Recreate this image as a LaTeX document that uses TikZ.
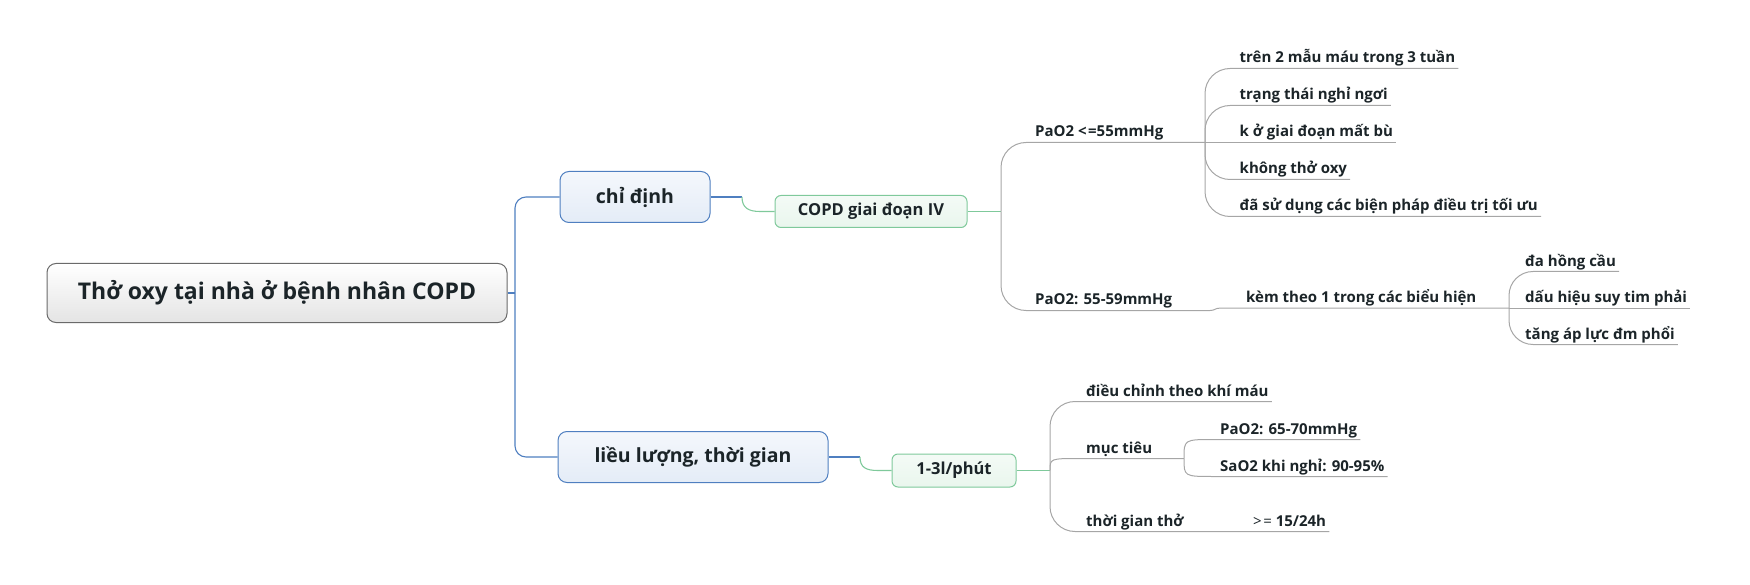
\documentclass[tikz,border=0pt]{standalone}
\usepackage{fontspec}
\setmainfont{Open Sans}
\usetikzlibrary{calc}
\definecolor{txt}{HTML}{1B2428}
\definecolor{blu}{HTML}{4F7FC0}
\definecolor{grn}{HTML}{7FC99B}
\definecolor{gry}{HTML}{A6A6A6}
\definecolor{rootb}{HTML}{6A6A6A}
\definecolor{rootf}{HTML}{E4E4E4}
\definecolor{bluf}{HTML}{E4ECF7}
\definecolor{grnf}{HTML}{E9F6ED}
\tikzset{
  rootbox/.style={draw=rootb, line width=1pt, rounded corners=9pt, top color=white, bottom color=rootf,
    minimum width=460pt, minimum height=59pt, inner sep=0pt, font=\fontsize{23}{27}\selectfont\bfseries, text=txt},
  mainbox/.style={draw=blu, line width=1pt, rounded corners=9pt, top color=white!60!bluf, bottom color=bluf,
    minimum height=51pt, inner sep=0pt, font=\fontsize{19.5}{24}\selectfont\bfseries, text=txt},
  subbox/.style={draw=grn, line width=1pt, rounded corners=6pt, top color=white!50!grnf, bottom color=grnf,
    minimum height=32pt, inner sep=0pt, font=\fontsize{16.5}{20}\selectfont\bfseries, text=txt},
  lbl/.style={anchor=base west, inner sep=0pt, font=\fontsize{15}{18}\selectfont\bfseries, text=txt},
  bl/.style={draw=blu, line width=1.1pt},
  gl/.style={draw=grn, line width=1.1pt},
  yl/.style={draw=gry, line width=1pt},
}
\begin{document}
\begin{tikzpicture}[x=1pt,y=-1pt]
\useasboundingbox (0,0) rectangle (1750,585);
\begin{scope}[shift={(0,1.5)}]
% boxes
\node[rootbox] (root) at (277,291.5) {Thở oxy tại nhà ở bệnh nhân COPD};
\node[mainbox, minimum width=150pt] (cd) at (635,195.5) {chỉ định};
\node[mainbox, minimum width=270pt] (ll) at (693,455.5) {liều lượng, thời gian};
\node[subbox, minimum width=192pt] (copd) at (871,210) {COPD giai đoạn IV};
\node[subbox, minimum width=124pt, minimum height=33pt] (lp) at (954,469) {1-3l/phút};
% trunk
\coordinate (tr) at (515,291.5);
\draw[bl] (root.east) -- (tr);
\draw[bl, rounded corners=11pt] (cd.west) -| (tr) |- (ll.west);
% main -> sub
\coordinate (cdj) at (742,195.5);
\coordinate (llj) at (860,455.5);
\draw[bl] (cd.east) -- (cdj);
\draw[gl] (cdj) .. controls (742,206) and (748,210) .. (760,210) -- (copd.west);
\draw[bl] (ll.east) -- (llj);
\draw[gl] (llj) .. controls (860,466) and (866,469) .. (878,469) -- (lp.west);
% upper branch
\coordinate (j1) at (1001,210);
\draw[gl] (copd.east) -- (j1);
\node[lbl] (p1) at (1035,135.5) {PaO2 <\kern1.5pt=55mmHg};
\node[lbl] (p2) at (1035,303.5) {PaO2: 55-59mmHg};
\coordinate (j2) at (1205,141);
\coordinate (j3) at (1509,306.6);
\draw[yl, rounded corners=25pt] (j1) |- (j2);
\draw[yl, rounded corners=25pt] (j1) |- (1210,309);
\draw[yl] (1210,309) .. controls (1215,309) and (1215,306.6) .. (1220,306.6) -- (j3);
\node[lbl] (t1) at (1239.5,61.5) {trên 2 mẫu máu trong 3 tuần};
\node[lbl] (t2) at (1239.5,98.5) {trạng thái nghỉ ngơi};
\node[lbl] (t3) at (1239.5,135.5) {k ở giai đoạn mất bù};
\node[lbl] (t4) at (1239.5,172.5) {không thở oxy};
\node[lbl] (t5) at (1239.5,209.5) {đã sử dụng các biện pháp điều trị tối ưu};
\draw[yl, rounded corners=25pt] (j2) |- ($(t1.base east)+(3,5.5)$);
\draw[yl, rounded corners=25pt] (j2) |- ($(t2.base east)+(3,5.5)$);
\draw[yl] (j2) -- ($(t3.base east)+(3,5.5)$);
\draw[yl, rounded corners=25pt] (j2) |- ($(t4.base east)+(3,5.5)$);
\draw[yl, rounded corners=25pt] (j2) |- ($(t5.base east)+(3,5.5)$);
\node[lbl] (k) at (1246,301.1) {kèm theo 1 trong các biểu hiện};
\node[lbl] (d1) at (1525,264.5) {đa hồng cầu};
\node[lbl] (d2) at (1525,301.1) {dấu hiệu suy tim phải};
\node[lbl] (d3) at (1525,337.5) {tăng áp lực đm phổi};
\draw[yl, rounded corners=24pt] (j3) |- ($(d1.base east)+(3,5.5)$);
\draw[yl] (j3) -- ($(d2.base east)+(3,5.5)$);
\draw[yl, rounded corners=24pt] (j3) |- ($(d3.base east)+(3,5.5)$);
% lower branch
\coordinate (j4) at (1050,469);
\coordinate (j5) at (1184,457);
\draw[gl] (lp.east) -- (j4);
\node[lbl] (e1) at (1086,394.5) {điều chỉnh theo khí máu};
\node[lbl] (e2) at (1086,451.5) {mục tiêu};
\node[lbl] (e3) at (1086,524.5) {thời gian thở};
\node[lbl] (g) at (1253,524.5) {{\mdseries >\kern1.5pt=} 15/24h};
\node[lbl] (f1) at (1220,432.5) {PaO2: 65-70mmHg};
\node[lbl] (f2) at (1220,469.5) {SaO2 khi nghỉ: 90-95\%};
\draw[yl, rounded corners=25pt] (j4) |- ($(e1.base east)+(3,5.5)$);
\draw[yl] (j4) .. controls (1050,457) .. (1080,457) -- (j5);
\draw[yl, rounded corners=25pt] (j4) |- ($(g.base east)+(3,5.5)$);
\draw[yl] (j5) .. controls (1184,438) .. (1214,438) -- ($(f1.base east)+(3,5.5)$);
\draw[yl] (j5) .. controls (1184,475) .. (1214,475) -- ($(f2.base east)+(3,5.5)$);
\end{scope}
\end{tikzpicture}
\end{document}
